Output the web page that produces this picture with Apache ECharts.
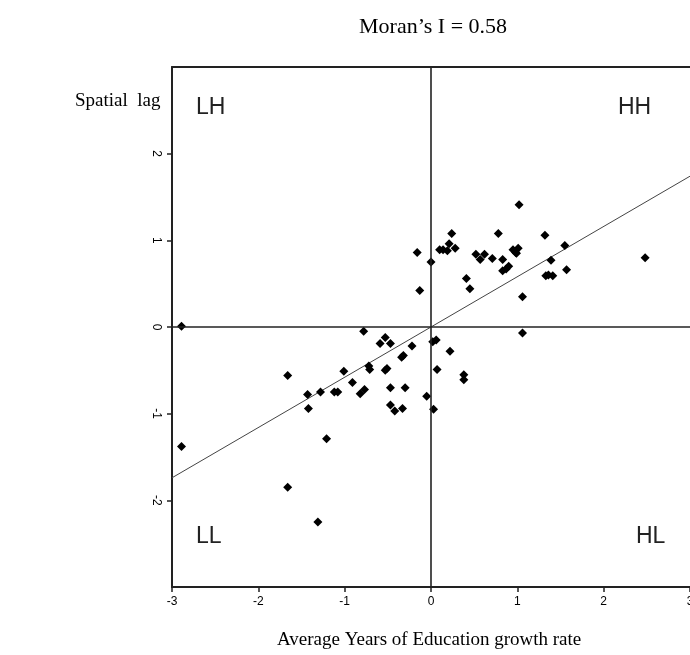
<!DOCTYPE html>
<html>
<head>
<meta charset="utf-8">
<script src="https://cdn.jsdelivr.net/npm/echarts@6/dist/echarts.min.js"></script>
<style>
  html, body { margin: 0; padding: 0; background: #fff; }
  #chart { width: 690px; height: 655px; }
</style>
</head>
<body>
<div id="chart"></div>
<script>
// Standardised growth in average years of education (x) and its spatial lag (y)
const eduGrowth = [
  -0.16, 0.00, -0.13, 0.24, 0.21, 0.10, 0.14, 0.19, 0.28, 0.41,
  0.45, 0.52, 0.57, 0.62, 0.71, 0.78, 0.83, 0.83, 0.87, 0.90,
  1.02, 0.95, 0.98, 1.01, 0.99, 1.06, 1.32, 1.39, 1.33, 1.36,
  1.41, 1.55, 1.57, 2.48, 1.06, -2.89, -2.89, -1.66, -1.31, -1.21,
  -1.66, -0.78, -0.53, -0.59, -0.47, -0.22, -0.32, -0.34, 0.02, 0.06,
  0.22, -1.01, -0.72, -0.71, -0.53, -0.51, 0.07, 0.38, 0.38, -0.91,
  -1.43, -1.28, -1.12, -1.08, -0.82, -0.77, -0.47, -0.30, -0.05, -1.42,
  -0.47, -0.42, -0.33, 0.03
];
const spatialLag = [
  0.86, 0.75, 0.42, 1.08, 0.96, 0.89, 0.89, 0.88, 0.91, 0.56,
  0.44, 0.84, 0.78, 0.84, 0.79, 1.08, 0.78, 0.65, 0.67, 0.70,
  1.41, 0.89, 0.86, 0.91, 0.85, 0.35, 1.06, 0.77, 0.59, 0.60,
  0.59, 0.94, 0.66, 0.80, -0.07, 0.01, -1.38, -1.85, -2.25, -1.29,
  -0.56, -0.05, -0.12, -0.19, -0.19, -0.22, -0.33, -0.35, -0.17, -0.15,
  -0.28, -0.51, -0.45, -0.49, -0.50, -0.48, -0.49, -0.55, -0.61, -0.64,
  -0.78, -0.75, -0.75, -0.75, -0.77, -0.72, -0.70, -0.70, -0.80, -0.94,
  -0.90, -0.97, -0.94, -0.95
];
const moransI = 0.58;
const axisRange = [-3, 3];
const quadrantNames = ['LH', 'HH', 'LL', 'HL'];

const points = eduGrowth.map((x, i) => [x, spatialLag[i]]);
// Fitted slope of the Moran scatterplot equals Moran's I
const fitLine = axisRange.map(x => [x, moransI * x]);

const serif = '"Liberation Serif", "Times New Roman", serif';
const sans = '"Liberation Sans", Arial, sans-serif';

const chart = echarts.init(document.getElementById('chart'), null, { renderer: 'canvas' });

const quadStyle = { fontFamily: sans, fontSize: 23, fill: '#222', fontWeight: 'normal' };

chart.setOption({
  animation: false,
  backgroundColor: '#fff',
  grid: {
    left: 172, top: 67, right: 0, bottom: 68, show: false,
    containLabel: false, outerBoundsMode: 'none'
  },
  xAxis: [{
    type: 'value', min: axisRange[0], max: axisRange[1], interval: 1,
    axisLine: { show: true, onZero: false, lineStyle: { color: '#222', width: 2 } },
    axisTick: { show: true, length: 5, lineStyle: { color: '#222', width: 1.5 } },
    axisLabel: { color: '#000', fontFamily: sans, fontSize: 12, margin: 9 },
    splitLine: { show: false }
  }, {
    type: 'value', position: 'top', min: axisRange[0], max: axisRange[1],
    axisLine: { show: true, onZero: false, lineStyle: { color: '#222', width: 2 } },
    axisTick: { show: false }, axisLabel: { show: false }, splitLine: { show: false }
  }],
  yAxis: {
    type: 'value', min: axisRange[0], max: axisRange[1], interval: 1,
    axisLine: { show: true, onZero: false, lineStyle: { color: '#222', width: 2 } },
    axisTick: { show: true, length: 5, lineStyle: { color: '#222', width: 1.5 } },
    axisLabel: {
      color: '#000', fontFamily: sans, fontSize: 12, rotate: -90, margin: 10,
      showMinLabel: false, showMaxLabel: false
    },
    splitLine: { show: false }
  },
  series: [{
    type: 'line',
    data: fitLine,
    symbol: 'none',
    lineStyle: { color: '#444', width: 1 },
    markLine: {
      silent: true, symbol: 'none', label: { show: false },
      lineStyle: { color: '#222', width: 1.6, type: 'solid' },
      data: [{ xAxis: 0 }, { yAxis: 0 }]
    },
    z: 2
  }, {
    type: 'scatter',
    data: points,
    symbol: 'diamond',
    symbolSize: 9,
    itemStyle: { color: '#000', opacity: 1 },
    z: 3
  }],
  graphic: [
    { type: 'text', left: 359, top: 16, style: { text: 'Moran\u2019s I = 0.58', fontFamily: serif, fontSize: 22, fill: '#000' } },
    { type: 'text', left: 75, top: 92, style: { text: 'Spatial  lag', fontFamily: serif, fontSize: 19, fill: '#000' } },
    { type: 'text', left: 277, top: 631, style: { text: 'Average Years of Education growth rate', fontFamily: serif, fontSize: 19, fill: '#000' } },
    { type: 'text', left: 196, top: 96, style: Object.assign({ text: quadrantNames[0] }, quadStyle) },
    { type: 'text', left: 618, top: 96, style: Object.assign({ text: quadrantNames[1] }, quadStyle) },
    { type: 'text', left: 196, top: 525, style: Object.assign({ text: quadrantNames[2] }, quadStyle) },
    { type: 'text', left: 636, top: 525, style: Object.assign({ text: quadrantNames[3] }, quadStyle) }
  ]
});
</script>
</body>
</html>
